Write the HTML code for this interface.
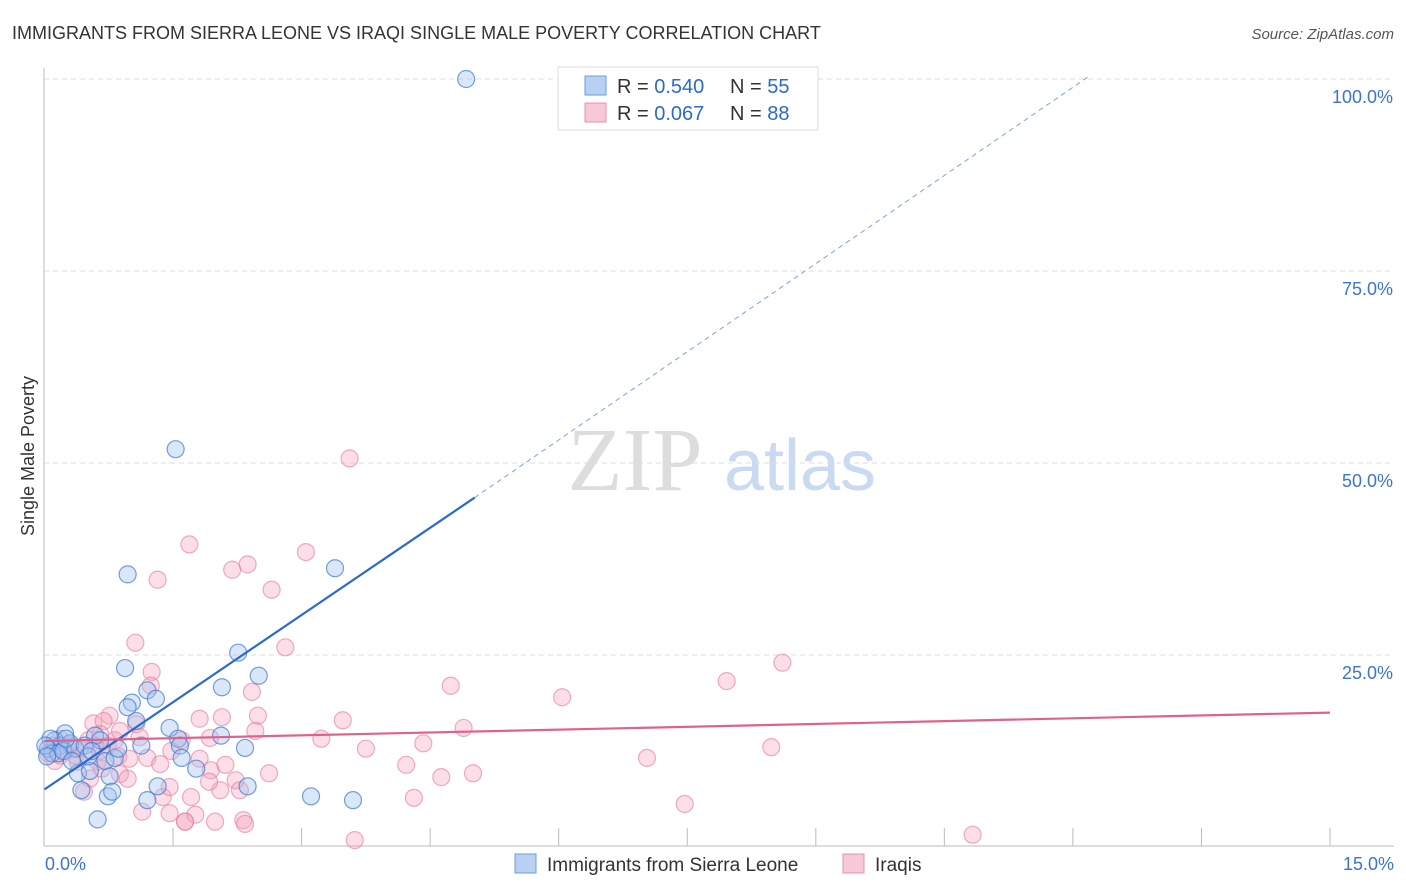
<!DOCTYPE html>
<html><head><meta charset="utf-8"><style>
body{margin:0;background:#fff;font-family:"Liberation Sans",sans-serif;}
#wrap{position:relative;width:1406px;height:892px;overflow:hidden;}
</style></head><body>
<div id="wrap">
<svg id="chart" width="1406" height="892" xmlns="http://www.w3.org/2000/svg">
<text x="12" y="39" font-size="18" fill="#333">IMMIGRANTS FROM SIERRA LEONE VS IRAQI SINGLE MALE POVERTY CORRELATION CHART</text>
<text x="1394" y="39" font-size="15" fill="#555" font-style="italic" text-anchor="end">Source: ZipAtlas.com</text>
<text x="635" y="490" font-size="90" fill="#ddd" font-family="Liberation Serif,serif" text-anchor="middle">ZIP</text>
<text x="800" y="490" font-size="72" fill="#c9daf2" text-anchor="middle">atlas</text>
<text transform="translate(34,456) rotate(-90)" font-size="18" fill="#333" text-anchor="middle">Single Male Poverty</text>
<g id="grid"></g><g id="axes"></g><g id="pts"></g><g id="trend"></g>
<g>
<rect x="558" y="67" width="260" height="63" fill="#fff" stroke="#ddd"/>
<rect x="585" y="76" width="21" height="19" fill="#b8d0f2" stroke="#6a9ee0"/>
<text x="617" y="93" font-size="20" fill="#333">R = <tspan fill="#2a6ad0">0.540</tspan></text>
<text x="730" y="93" font-size="20" fill="#333">N = <tspan fill="#2a6ad0">55</tspan></text>
<rect x="585" y="103" width="21" height="19" fill="#f8c8d6" stroke="#e890a8"/>
<text x="617" y="120" font-size="20" fill="#333">R = <tspan fill="#2a6ad0">0.067</tspan></text>
<text x="730" y="120" font-size="20" fill="#333">N = <tspan fill="#2a6ad0">88</tspan></text>
</g>
<g>
<rect x="515" y="854" width="21" height="19" fill="#b8d0f2" stroke="#6a9ee0"/>
<text x="547" y="871" font-size="19" fill="#333">Immigrants from Sierra Leone</text>
<rect x="843" y="854" width="21" height="19" fill="#f8c8d6" stroke="#e890a8"/>
<text x="875" y="871" font-size="19" fill="#333">Iraqis</text>
</g>
</svg>
</div>
<script>
const xTicks=[0,1.5,3,4.5,6,7.5,9,10.5,12,13.5,15];
const yTicks=[25,50,75,100];
const yTickLabels=["25.0%","50.0%","75.0%","100.0%"];
const xEndLabels=["0.0%","15.0%"];
const blueX=[4.92,1.53,0.97,3.39,0.94,2.26,2.50,2.07,1.20,1.30,1.02,0.97,1.07,1.46,1.56,1.58,2.06,2.34,1.13,1.60,1.77,2.37,1.32,1.20,0.74,0.62,3.11,3.60,0.43,0.39,0.53,0.71,0.82,0.86,0.59,0.24,0.12,0.18,0.30,0.07,0.04,0.09,0.16,0.22,0.36,0.47,0.65,0.51,0.76,0.79,0.01,0.03,0.25,0.32,0.55];
const blueY=[100,51.8,35.5,36.3,23.3,25.3,22.3,20.8,20.4,19.3,18.8,18.2,16.4,15.5,14.1,13.2,14.5,12.9,13.2,11.6,10.2,7.9,7.9,6.1,6.6,3.6,6.6,6.1,7.4,9.6,9.9,11.2,11.6,12.8,14.5,14.8,13.9,13.2,13.5,14.1,12.8,12.2,12.2,12.5,12.8,13.2,13.9,11.8,9.2,7.2,13.2,11.8,14.1,11.2,12.5];
const pinkX=[3.56,1.69,3.05,2.37,2.19,1.32,2.65,1.06,2.81,8.61,1.25,7.96,1.24,4.74,2.42,6.04,0.76,0.57,0.69,1.81,2.07,2.49,3.48,4.89,1.07,3.23,4.42,3.75,8.48,0.86,1.20,1.48,1.60,2.46,1.93,7.03,4.22,5.00,4.63,2.62,1.94,2.11,2.23,0.67,0.88,0.97,0.53,0.46,1.38,1.71,2.05,2.28,1.92,1.46,4.31,7.47,1.14,1.46,1.64,1.76,2.32,1.99,2.34,3.62,10.83,1.64,0.18,0.12,0.24,0.36,0.41,0.30,0.51,0.59,0.65,0.74,0.82,0.18,0.09,0.04,0.39,0.62,0.99,1.35,1.81,0.88,0.65,1.11];
const pinkY=[50.6,39.4,38.4,36.8,36.1,34.8,33.5,26.6,26.0,24.0,22.8,21.6,21.0,21.0,20.2,19.5,17.1,16.1,16.4,16.7,16.9,17.1,16.5,15.5,16.0,14.1,13.5,12.8,13.0,11.8,11.6,12.5,13.9,15.1,14.2,11.6,10.7,9.6,9.1,9.6,10.0,10.7,8.7,10.2,9.5,8.9,8.9,7.2,6.5,6.5,7.4,7.4,8.5,7.8,6.4,5.6,4.6,4.4,3.3,4.2,3.5,3.3,3.0,0.9,1.6,3.3,11.9,11.2,12.5,11.9,12.8,13.2,13.9,13.2,12.5,13.2,13.9,14.1,13.2,12.2,11.1,11.1,11.5,10.8,11.5,15.1,14.7,14.3];
const blueTrend=[[0,7.5],[5.02,45.5],[12.18,100.3]];
const pinkTrend=[[0,13.8],[15,17.5]];
const NS="http://www.w3.org/2000/svg";
const X=v=>44.5+v*85.7, Y=v=>847-v*7.68;
function mk(p,t,a){const e=document.createElementNS(NS,t);for(const k in a)e.setAttribute(k,a[k]);p.appendChild(e);return e;}
const grid=document.getElementById('grid'),axes=document.getElementById('axes'),pts=document.getElementById('pts'),tr=document.getElementById('trend');
yTicks.forEach((t,i)=>{
 const l=mk(grid,'line',{x1:44,x2:1394,y1:Y(t),y2:Y(t),stroke:'#ddd','stroke-dasharray':'5,4'});
 
 
 const tx=mk(axes,'text',{x:1393,y:Y(t)+24,'font-size':18,fill:'#3b73d4','text-anchor':'end'});tx.textContent=yTickLabels[i];
 
 
});
const ax=mk(axes,'line',{x1:44,x2:44,y1:68,y2:846,stroke:'#bbb'});


const bx=mk(axes,'line',{x1:44,x2:1394,y1:846,y2:846,stroke:'#bbb'});


xTicks.slice(1).forEach(t=>{
 const l=mk(axes,'line',{x1:X(t),x2:X(t),y1:828,y2:846,stroke:'#bbb'});
 
 
});
[[0,'start',45],[15,'end',1394]].forEach((d,i)=>{
 const tx=mk(axes,'text',{x:d[2],y:870,'font-size':18,fill:'#3b73d4','text-anchor':d[1]});tx.textContent=xEndLabels[i];
 
 
});
pinkX.forEach((v,i)=>{
 const c=mk(pts,'circle',{cx:X(v),cy:Y(pinkY[i]),r:8.5,fill:'rgba(244,160,185,0.35)',stroke:'rgba(232,120,155,0.6)','stroke-width':1.2});
 
 
});
blueX.forEach((v,i)=>{
 const c=mk(pts,'circle',{cx:X(v),cy:Y(blueY[i]),r:8.5,fill:'rgba(160,195,240,0.4)',stroke:'rgba(60,120,210,0.7)','stroke-width':1.2});
 
 
});
const b1=mk(tr,'line',{x1:X(blueTrend[0][0]),y1:Y(blueTrend[0][1]),x2:X(blueTrend[1][0]),y2:Y(blueTrend[1][1]),stroke:'#2a6ad0','stroke-width':2.2});


const b2=mk(tr,'line',{x1:X(blueTrend[1][0]),y1:Y(blueTrend[1][1]),x2:X(blueTrend[2][0]),y2:Y(blueTrend[2][1]),stroke:'#7aa4e0','stroke-width':1,'stroke-dasharray':'5,4'});


const p1=mk(tr,'line',{x1:X(pinkTrend[0][0]),y1:Y(pinkTrend[0][1]),x2:X(pinkTrend[1][0]),y2:Y(pinkTrend[1][1]),stroke:'#e0628c','stroke-width':2.2});


</script>
</body></html>
